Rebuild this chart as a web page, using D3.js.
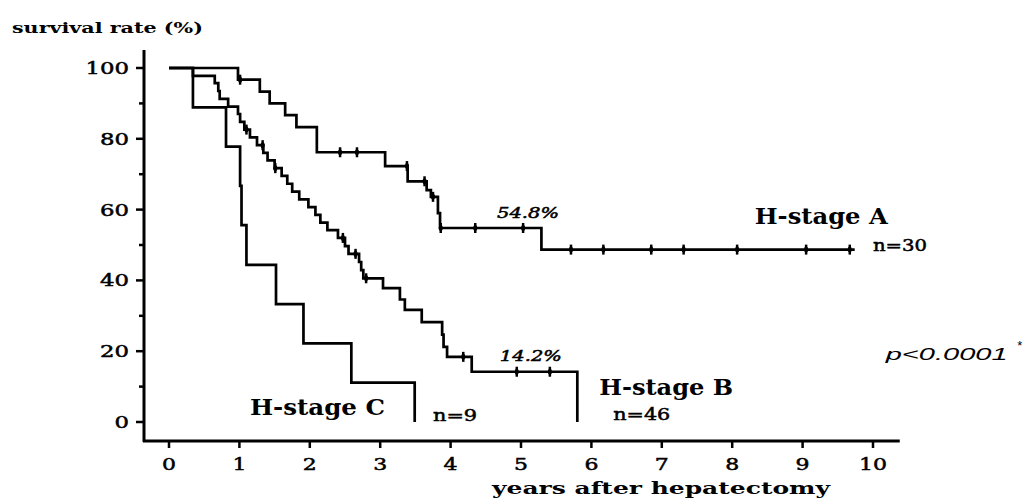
<!DOCTYPE html>
<html>
<head>
<meta charset="utf-8">
<script src="https://cdn.jsdelivr.net/npm/d3@7"></script>
<style>
  body { margin: 0; background: #fff; }
  text { font-family: "DejaVu Serif", serif; fill: #000; }
  .ink { stroke: #000; stroke-width: 0.5px; }
</style>
</head>
<body>
<div id="container"></div>
<script>
// step data: [years, survival %] at each drop
const stageA = [[0, 100], [0.98, 96.7], [1.29, 93.3], [1.43, 90.0], [1.65, 86.7], [1.81, 83.3],
  [2.10, 76.2], [3.07, 72.3], [3.39, 68.0], [3.66, 65.5], [3.72, 63.6], [3.82, 59.0],
  [3.85, 54.8], [5.29, 48.7], [9.74, 48.7]];
const censorA = [1.01, 2.43, 2.67, 3.38, 3.63, 3.75, 3.86, 4.35, 5.03, 5.71, 6.17, 6.85, 7.31, 8.07, 9.05, 9.67];

const stageB = [[0, 100], [0.34, 97.8], [0.65, 95.7], [0.70, 93.5], [0.72, 91.3], [0.84, 89.1],
  [0.98, 87.0], [1.01, 84.8], [1.07, 82.6], [1.15, 80.4], [1.25, 78.2], [1.34, 76.0],
  [1.40, 73.9], [1.50, 71.7], [1.60, 69.5], [1.68, 67.3], [1.75, 65.1], [1.85, 62.9],
  [1.98, 60.7], [2.08, 58.5], [2.15, 56.3], [2.25, 54.2], [2.40, 52.0], [2.50, 49.7],
  [2.55, 47.5], [2.70, 45.2], [2.73, 42.9], [2.76, 40.6], [3.04, 37.8], [3.28, 34.6],
  [3.35, 31.7], [3.59, 28.2], [3.88, 24.7], [3.90, 21.2], [3.95, 18.4], [4.30, 14.2],
  [5.80, 0]];
const censorB = [1.10, 1.33, 1.51, 2.47, 2.65, 2.80, 4.18, 4.94, 5.41];

const stageC = [[0, 100], [0.34, 88.9], [0.81, 77.8], [1.01, 66.7], [1.03, 55.6], [1.10, 44.4],
  [1.52, 33.3], [1.91, 22.2], [2.59, 11.1], [3.49, 0]];

const xTicks = [0, 1, 2, 3, 4, 5, 6, 7, 8, 9, 10];
const yTicks = [0, 20, 40, 60, 80, 100];
const yMinor = [10, 30, 50, 70, 90];

const width = 1023, height = 499;

const svg = d3.select("#container")
  .append("svg")
  .attr("width", width)
  .attr("height", height);

const x = d3.scaleLinear().domain([0, 10]).range([169, 873]);
const y = d3.scaleLinear().domain([0, 100]).range([422, 68]);

// axes
svg.append("line")
  .attr("x1", 144).attr("x2", 144)
  .attr("y1", y(105.1)).attr("y2", 442)
  .attr("stroke", "#000").attr("stroke-width", 3);

svg.append("line")
  .attr("x1", 143).attr("x2", x(10.38))
  .attr("y1", 441).attr("y2", 441)
  .attr("stroke", "#000").attr("stroke-width", 3);

svg.selectAll(".ytick")
  .data(yTicks)
  .enter()
  .append("line")
  .attr("x1", 136).attr("x2", 144)
  .attr("y1", d => y(d)).attr("y2", d => y(d))
  .attr("stroke", "#000").attr("stroke-width", 2.5);

svg.selectAll(".yminor")
  .data(yMinor)
  .enter()
  .append("line")
  .attr("x1", 139).attr("x2", 144)
  .attr("y1", d => y(d)).attr("y2", d => y(d))
  .attr("stroke", "#000").attr("stroke-width", 2.5);

svg.selectAll(".ylabel")
  .data(yTicks)
  .enter()
  .append("text")
  .attr("class", "ink")
  .attr("x", 129)
  .attr("y", d => y(d) + 6)
  .attr("text-anchor", "end")
  .attr("textLength", d => String(d).length * 14.5)
  .attr("lengthAdjust", "spacingAndGlyphs")
  .style("font-size", "17px")
  .text(d => d);

svg.selectAll(".xtick")
  .data(xTicks)
  .enter()
  .append("line")
  .attr("x1", d => x(d)).attr("x2", d => x(d))
  .attr("y1", 441).attr("y2", 448)
  .attr("stroke", "#000").attr("stroke-width", 2.5);

svg.selectAll(".xlabel")
  .data(xTicks)
  .enter()
  .append("text")
  .attr("class", "ink")
  .attr("x", d => x(d))
  .attr("y", 470)
  .attr("text-anchor", "middle")
  .attr("textLength", d => String(d).length * 14)
  .attr("lengthAdjust", "spacingAndGlyphs")
  .style("font-size", "17px")
  .text(d => d);

svg.append("text")
  .attr("x", 12).attr("y", 33)
  .attr("textLength", 191)
  .attr("lengthAdjust", "spacingAndGlyphs")
  .style("font-size", "15px")
  .style("font-weight", "bold")
  .text("survival rate (%)");

svg.append("text")
  .attr("x", 492).attr("y", 494)
  .attr("textLength", 338)
  .attr("lengthAdjust", "spacingAndGlyphs")
  .style("font-size", "16px")
  .style("font-weight", "bold")
  .text("years after hepatectomy");

// curves
const line = d3.line()
  .x(d => x(d[0]))
  .y(d => y(d[1]))
  .curve(d3.curveStepAfter);

[stageA, stageB, stageC].forEach(series => {
  svg.append("path")
    .datum(series)
    .attr("fill", "none")
    .attr("stroke", "#000")
    .attr("stroke-width", 2.7)
    .attr("d", line);
});

const levelAt = (series, t) => {
  let v = series[0][1];
  series.forEach(d => { if (d[0] <= t) v = d[1]; });
  return v;
};

const drawCensor = (series, times) => {
  const g = svg.append("g");
  times.forEach(t => {
    const cx = x(t), cy = y(levelAt(series, t));
    g.append("line")
      .attr("x1", cx).attr("x2", cx)
      .attr("y1", cy - 5).attr("y2", cy + 5)
      .attr("stroke", "#000").attr("stroke-width", 2.5);
    g.append("ellipse")
      .attr("cx", cx).attr("cy", cy)
      .attr("rx", 2).attr("ry", 3)
      .attr("fill", "#000");
  });
};

drawCensor(stageA, censorA);
drawCensor(stageB, censorB);

// annotations
const label = (txt, t, s, opts) => {
  const el = svg.append("text")
    .attr("x", x(t)).attr("y", y(s))
    .style("font-size", opts.size + "px")
    .style("font-weight", opts.weight || "normal")
    .style("font-style", opts.italic ? "italic" : "normal")
    .text(txt);
  if (opts.anchor) el.attr("text-anchor", opts.anchor);
  if (opts.len) el.attr("textLength", opts.len).attr("lengthAdjust", "spacingAndGlyphs");
  if (opts.family) el.style("font-family", opts.family);
  if (opts.ink) el.attr("class", "ink");
  return el;
};

label("54.8%", 5.1, 57.5, { size: 15, italic: true, anchor: "middle", len: 62, ink: true });
label("14.2%", 5.14, 17.2, { size: 15, italic: true, anchor: "middle", len: 62, ink: true });
label("H-stage A", 8.32, 55.8, { size: 22, weight: "bold", len: 133 });
label("n=30", 10.0, 48.2, { size: 16, len: 54, ink: true });
label("H-stage B", 6.11, 7.6, { size: 22, weight: "bold", len: 134 });
label("n=46", 6.31, 0.6, { size: 16, len: 57, ink: true });
label("H-stage C", 1.15, 2.0, { size: 22, weight: "bold", len: 135 });
label("n=9", 3.75, 0.3, { size: 16, len: 44, ink: true });
label("p<0.0001", 10.18, 17.5, { size: 17, italic: true, len: 122, family: "'Liberation Sans', sans-serif" });
label("*", 12.05, 20.3, { size: 13, family: "'Liberation Sans', sans-serif" });
</script>
</body>
</html>
